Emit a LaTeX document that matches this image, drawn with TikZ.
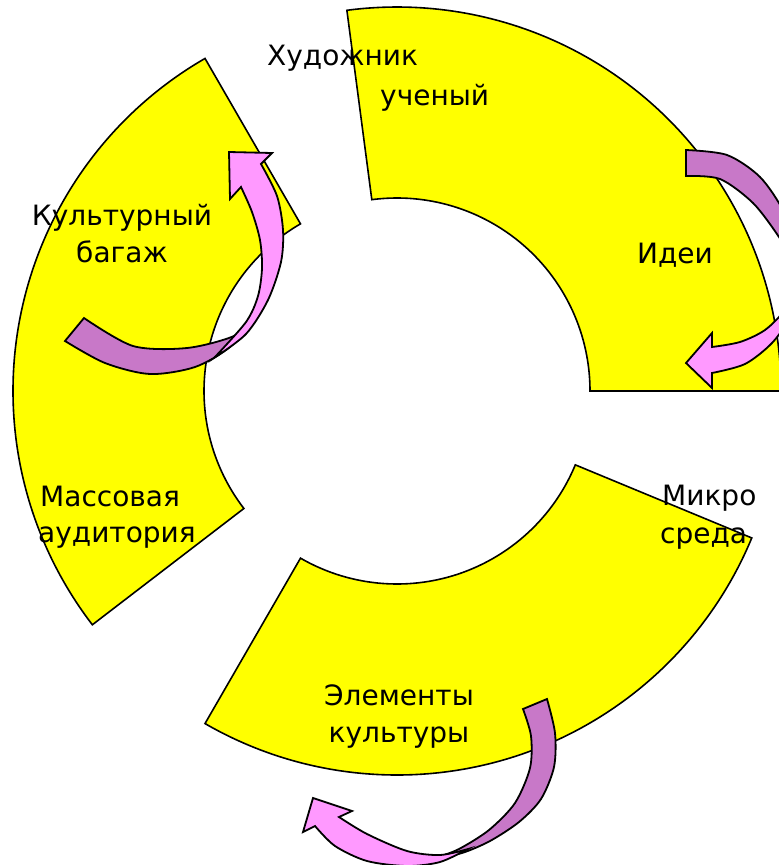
\documentclass[tikz,border=0pt]{standalone}
\usepackage{fontspec}
\setmainfont{DejaVu Sans}
\usetikzlibrary{calc}
\definecolor{secyellow}{HTML}{FFFF00}
\definecolor{arrdark}{HTML}{C878C8}
\definecolor{arrlight}{HTML}{FF99FF}
\tikzset{
  sector/.style={fill=secyellow, draw=black, line width=1.6pt, line join=miter},
  darkpart/.style={fill=arrdark, draw=black, line width=1.8pt, line join=miter},
  lightpart/.style={fill=arrlight, draw=black, line width=1.8pt, line join=miter},
  lbl/.style={inner sep=0pt, font=\fontsize{28}{37}\selectfont, text=black}
}
\begin{document}
\begin{tikzpicture}[x=1pt, y=-1pt]
\useasboundingbox (0,0) rectangle (779,865);
\coordinate (C) at (397,391);
% sectors
\path[sector] ($(C)+(-97.5:193)$) arc[start angle=-97.5, end angle=0, radius=193]
  -- ($(C)+(0:384)$) arc[start angle=0, end angle=-97.5, radius=384] -- cycle;
\path[sector] ($(C)+(142.5:193)$) arc[start angle=142.5, end angle=240, radius=193]
  -- ($(C)+(240:384)$) arc[start angle=240, end angle=142.5, radius=384] -- cycle;
\path[sector] ($(C)+(22.5:193)$) arc[start angle=22.5, end angle=120, radius=193]
  -- ($(C)+(120:384)$) arc[start angle=120, end angle=22.5, radius=384] -- cycle;
% arrow near "Идеи"
\path[darkpart] plot[smooth] coordinates {(686,150) (727,155) (760,177) (784,212) (800,255) (806,292)}
  -- plot[smooth] coordinates {(806,292) (793,262) (779,237) (753,203) (720,179) (686,176)} -- cycle;
\path[lightpart] plot[smooth] coordinates {(812,255) (800,285) (785,310) (765,330) (740,342) (712,347)}
  -- (712,333) -- (686,363) -- (712,388) -- (712,373)
  -- plot[smooth] coordinates {(712,373) (745,364) (772,343) (792,315) (806,285) (812,255)} -- cycle;
% arrow near "Культурный багаж"
\path[darkpart] plot[smooth] coordinates {(65,341) (105,363) (150,374) (195,367) (230,347) (256,318)}
  -- plot[smooth] coordinates {(256,318) (234,336) (187,348) (133,346) (84,318)} -- cycle;
\path[lightpart] plot[smooth] coordinates {(214,358) (246,334) (268,300) (281,262) (283,230) (277,196) (261,164)}
  -- (272,153) -- (229,152) -- (230,199) -- (241,187)
  -- plot[smooth] coordinates {(241,187) (252,212) (260,240) (262,268) (258,296) (246,322) (214,358)} -- cycle;
% arrow near "Элементы культуры"
\path[darkpart] plot[smooth] coordinates {(523,709) (531,736) (530,768) (515,803) (489,830) (459,849) (438,857)}
  -- plot[smooth] coordinates {(438,857) (462,853) (490,841) (519,822) (541,799) (554,767) (555,733) (547,699)} -- cycle;
\path[lightpart] plot[smooth] coordinates {(468,849) (440,855) (407,851) (367,834) (339,817)}
  -- (352,811) -- (313,798) -- (303,832) -- (315,826)
  -- plot[smooth] coordinates {(315,826) (335,846) (367,861) (407,866) (440,862) (468,849)} -- cycle;
% labels
\node[lbl, anchor=base west] (hud) at (267,65) {Художник};
\node[lbl, anchor=base west] (uch) at (380,105) {ученый};
\node[lbl, anchor=base west] (idei) at (637,263) {Идеи};
\node[lbl, anchor=base] (kult1) at (122,225) {Культурный};
\node[lbl, anchor=base] (kult2) at (122,262) {багаж};
\node[lbl, anchor=base west] (mass1) at (40,506) {Массовая};
\node[lbl, anchor=base west] (mass2) at (38,542) {аудитория};
\node[lbl, anchor=base west] (mik1) at (662,505) {Микро};
\node[lbl, anchor=base west] (mik2) at (660,543) {среда};
\node[lbl, anchor=base] (el1) at (399,705) {Элементы};
\node[lbl, anchor=base] (el2) at (399,742) {культуры};
\end{tikzpicture}
\end{document}
